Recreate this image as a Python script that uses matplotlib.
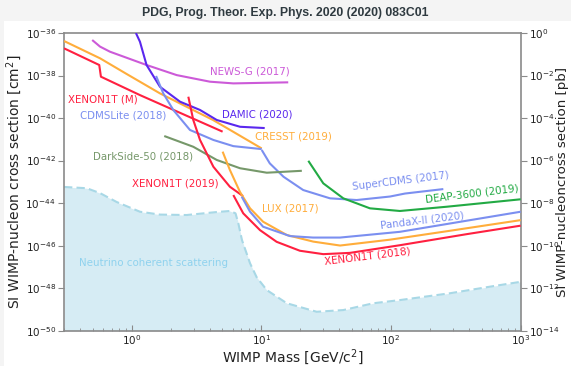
import numpy as np
import matplotlib
matplotlib.use('Agg')
import matplotlib.pyplot as plt
from matplotlib.patches import Rectangle
from matplotlib.ticker import LogLocator, NullLocator, NullFormatter, FixedLocator

# ---- data: WIMP mass [GeV/c^2] and log10 of SI cross section [cm^2] ----
xenon1t_m_mass = [0.30, 0.561, 0.578, 1.156, 5.02]
xenon1t_m_logsig = [-36.72, -37.505, -38.055, -38.92, -40.64]

cresst_mass = [0.30, 0.569, 0.914, 1.65, 2.65, 4.23, 6.04, 10.05]
cresst_logsig = [-36.376, -37.19, -37.93, -38.84, -39.47, -40.09, -40.64, -41.43]

newsg_mass = [0.495, 0.569, 0.679, 1.30, 2.22, 4.01, 6.07, 16.1]
newsg_logsig = [-36.33, -36.64, -36.88, -37.505, -37.98, -38.29, -38.37, -38.32]

damic_mass = [1.076, 1.156, 1.30, 1.65, 2.355, 3.36, 4.52, 6.84, 10.6]
damic_logsig = [-36.0, -36.41, -37.505, -38.53, -39.23, -39.62, -40.09, -40.41, -40.47]

cdmslite_mass = [1.54, 1.75, 2.09, 2.81, 4.26, 6.07, 10.05]
cdmslite_logsig = [-38.02, -38.84, -39.62, -40.56, -41.03, -41.32, -41.46]

supercdms_mass = [10.05, 11.6, 14.8, 21.0, 33.8, 54.3, 98.2, 128, 253]
supercdms_logsig = [-41.50, -42.13, -42.76, -43.385, -43.775, -43.855, -43.69, -43.55, -43.34]

darkside_mass = [1.78, 2.98, 4.52, 6.84, 11.0, 20.5]
darkside_logsig = [-40.845, -41.35, -41.97, -42.36, -42.57, -42.48]

xenon1t_2019_mass = [2.73, 2.98, 3.36, 4.26, 5.71, 7.21]
xenon1t_2019_logsig = [-38.996, -40.09, -41.03, -42.29, -43.23, -43.67]

lux_mass = [5.02, 5.71, 6.84, 8.17, 10.3, 15.7, 25.1, 40.4, 98.0, 300, 1000]
lux_logsig = [-41.58, -42.44, -43.48, -44.245, -44.875, -45.50, -45.81, -45.995, -45.72, -45.28, -44.80]

pandax_mass = [7.05, 8.17, 10.3, 16.6, 25.0, 40.4, 117, 1000]
pandax_logsig = [-43.70, -44.405, -45.11, -45.55, -45.62, -45.62, -45.35, -44.405]

xenon1t_2018_mass = [6.07, 7.24, 9.75, 13.1, 19.8, 30.0, 48.2, 117, 383, 1000]
xenon1t_2018_logsig = [-43.62, -44.48, -45.27, -45.82, -46.24, -46.40, -46.34, -45.98, -45.46, -45.06]

deap_mass = [23.0, 30.0, 42.8, 68.7, 117, 269, 1000]
deap_logsig = [-42.01, -43.07, -43.775, -44.245, -44.37, -44.17, -43.82]

nu_mass = [0.30, 0.449, 0.569, 0.766, 1.156, 1.65, 2.65, 4.52, 5.71, 6.31, 6.63,
           7.08, 8.17, 9.18, 11.0, 15.7, 26.7, 42.8, 72.9, 117, 284, 579, 1000]
nu_logsig = [-43.24, -43.30, -43.53, -43.95, -44.405, -44.54, -44.56, -44.42, -44.37,
             -44.48, -44.94, -45.74, -46.83, -47.48, -48.09, -48.71, -49.11, -49.03,
             -48.71, -48.56, -48.24, -47.93, -47.70]

left_ticks_exp = [-50, -48, -46, -44, -42, -40, -38, -36]
right_ticks_exp = [-14, -12, -10, -8, -6, -4, -2, 0]
x_ticks = [1, 10, 100, 1000]

# ---- styling ----
RED = '#ff2040'
ORANGE = '#ffad3b'
MAGENTA = '#cc5ad8'
VIOLET = '#5a28ee'
CORN = '#7b8ff0'
OLIVE = '#76986a'
GREEN = '#22aa44'
NU_FILL = '#d6ecf4'
NU_EDGE = '#a8d8e6'
NU_TEXT = '#8fd2ee'

fig = plt.figure(figsize=(5.71, 3.66), dpi=100, facecolor='#f4f4f4')
bg = Rectangle((4 / 571, 0), 1, 1 - 21 / 366, transform=fig.transFigure,
               facecolor='white', edgecolor='none', zorder=-10)
fig.add_artist(bg)
fig.text(0.5, 1 - 13 / 366, 'PDG, Prog. Theor. Exp. Phys. 2020 (2020) 083C01',
         ha='center', va='center', fontsize=8.8, fontweight='bold',
         family='Liberation Sans', color='#2f3a40')

ax = fig.add_axes([64 / 571, 1 - 330.7 / 366, (520.7 - 64) / 571, (330.7 - 33) / 366])
ax.set_zorder(1)
ax.set_facecolor('none')
ax.set_xscale('log')
ax.set_yscale('log')
ax.set_xlim(0.3, 1000)
ax.set_ylim(1e-50, 1e-36)


def pw(v):
    return np.power(10.0, np.asarray(v, dtype=float))


# neutrino floor
ax.fill_between(nu_mass, pw(nu_logsig), 1e-50, color=NU_FILL, lw=0, zorder=1)
ax.plot(nu_mass, pw(nu_logsig), color=NU_EDGE, lw=1.5, ls=(0, (4, 2)), zorder=2)

lw = 1.5
curves = [
    (newsg_mass, newsg_logsig, MAGENTA),
    (xenon1t_m_mass, xenon1t_m_logsig, RED),
    (cresst_mass, cresst_logsig, ORANGE),
    (damic_mass, damic_logsig, VIOLET),
    (cdmslite_mass, cdmslite_logsig, CORN),
    (supercdms_mass, supercdms_logsig, CORN),
    (darkside_mass, darkside_logsig, OLIVE),
    (xenon1t_2019_mass, xenon1t_2019_logsig, RED),
    (lux_mass, lux_logsig, ORANGE),
    (pandax_mass, pandax_logsig, CORN),
    (xenon1t_2018_mass, xenon1t_2018_logsig, RED),
    (deap_mass, deap_logsig, GREEN),
]
for m, s, c in curves:
    ax.plot(m, pw(s), color=c, lw=lw, zorder=3, solid_capstyle='butt',
            solid_joinstyle='round')

fs = 7.4
labels = [
    ('NEWS-G (2017)', 8.1, -37.83, MAGENTA, 0),
    ('XENON1T (M)', 0.594, -39.15, RED, 0),
    ('CDMSLite (2018)', 0.855, -39.86, CORN, 0),
    ('DAMIC (2020)', 9.36, -39.81, VIOLET, 0),
    ('CRESST (2019)', 17.8, -40.845, ORANGE, 0),
    ('DarkSide-50 (2018)', 1.22, -41.83, OLIVE, 0),
    ('XENON1T (2019)', 2.17, -43.10, RED, 0),
    ('LUX (2017)', 16.6, -44.23, ORANGE, 0),
    ('SuperCDMS (2017)', 119, -42.96, CORN, 7),
    ('DEAP-3600 (2019)', 421, -43.57, GREEN, 7),
    ('PandaX-II (2020)', 173, -44.80, CORN, 7),
    ('XENON1T (2018)', 65.2, -46.49, RED, 7),
    ('Neutrino coherent scattering', 1.48, -46.82, NU_TEXT, 0),
]
for t, x, y, c, r in labels:
    ax.text(x, 10.0 ** y, t, color=c, fontsize=fs, ha='center', va='center',
            rotation=r, rotation_mode='anchor', zorder=4)

SPINE = '#8a8a8a'
for sp in ax.spines.values():
    sp.set_color(SPINE)
    sp.set_linewidth(1.2)

ax.yaxis.set_major_locator(FixedLocator(pw(left_ticks_exp)))
ax.yaxis.set_minor_locator(NullLocator())
ax.xaxis.set_major_locator(FixedLocator(x_ticks))
ax.xaxis.set_minor_locator(LogLocator(base=10, subs=np.arange(2, 10)))
ax.xaxis.set_minor_formatter(NullFormatter())
ax.tick_params(axis='x', which='both', direction='in', colors=SPINE, labelcolor='#222222',
               labelsize=7.5, pad=2)
ax.tick_params(axis='x', which='major', length=4)
ax.tick_params(axis='x', which='minor', length=2.5)
ax.tick_params(axis='y', which='major', direction='out', length=4, colors=SPINE,
               labelcolor='#222222', labelsize=7.5, pad=2)
ax.set_xlabel('WIMP Mass [GeV/c$^2$]', fontsize=10, color='#222222', labelpad=0)
ax.set_ylabel('SI WIMP-nucleon cross section [cm$^2$]', fontsize=10, color='#222222',
              labelpad=1)

ax2 = ax.twinx()
ax2.set_zorder(1)
ax2.set_yscale('log')
ax2.set_ylim(1e-14, 1e0)
ax2.yaxis.set_major_locator(FixedLocator(pw(right_ticks_exp)))
ax2.yaxis.set_minor_locator(NullLocator())
ax2.tick_params(axis='y', which='major', direction='out', length=4, colors=SPINE,
                labelcolor='#222222', labelsize=7.5, pad=2)
for sp in ax2.spines.values():
    sp.set_visible(False)
ax2.set_ylabel('SI WIMP-nucleoncross section [pb]', fontsize=9.6, color='#222222',
               labelpad=-2)

fig.savefig('out.png', dpi=100, facecolor=fig.get_facecolor())
